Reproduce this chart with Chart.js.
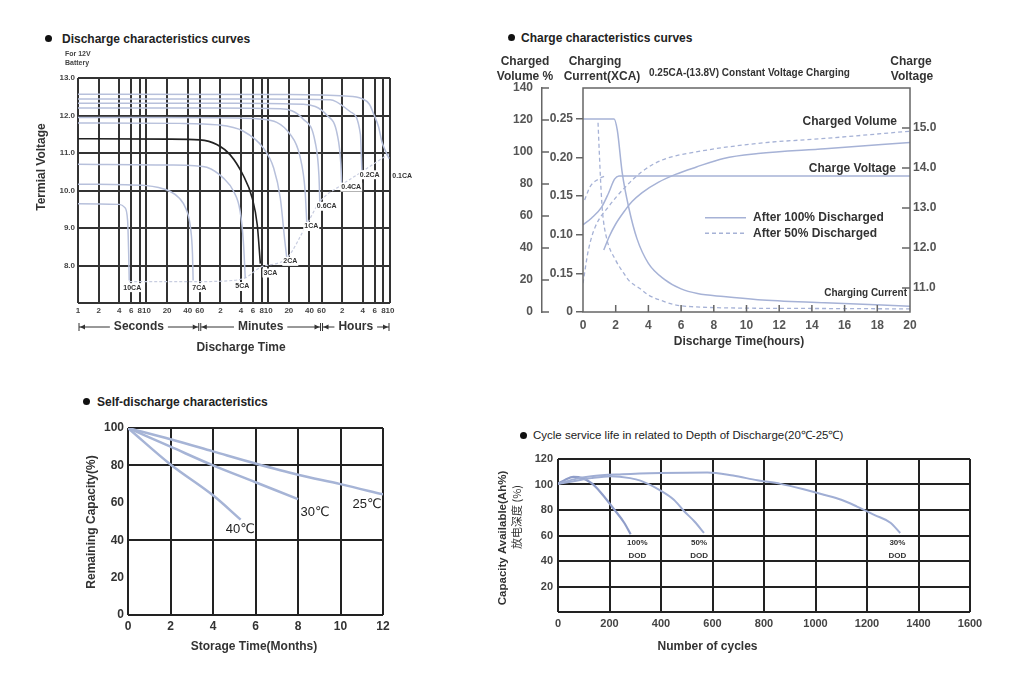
<!DOCTYPE html>
<html>
<head>
<meta charset="utf-8">
<title>Battery characteristics</title>
<script src="https://cdn.jsdelivr.net/npm/chart.js"></script>
<style>
  body { margin:0; background:#fff; width:1024px; height:673px; position:relative; overflow:hidden;
         font-family:"Liberation Sans", Arial, sans-serif; }
  canvas { position:absolute; }
  .hd { position:absolute; font-weight:bold; font-size:12px; line-height:16px; color:#222; white-space:nowrap; }
  .dot { position:absolute; width:7px; height:7px; border-radius:50%; background:#111; }
</style>
</head>
<body>

<div class="dot" style="left:45px;top:35px"></div>
<div class="hd" style="left:62px;top:31px">Discharge characteristics curves</div>
<div class="dot" style="left:508px;top:34px"></div>
<div class="hd" style="left:521px;top:30px">Charge characteristics curves</div>
<div class="dot" style="left:83px;top:398px"></div>
<div class="hd" style="left:97px;top:394px">Self-discharge characteristics</div>
<div class="dot" style="left:520px;top:432px"></div>
<div class="hd" style="left:533px;top:427px;font-weight:normal;font-size:11.5px">Cycle service life in related to Depth of Discharge(20℃-25℃)</div>

<canvas id="discharge" width="400" height="320" style="left:20px;top:45px"></canvas>
<canvas id="charge" width="460" height="320" style="left:490px;top:45px"></canvas>
<canvas id="selfdis" width="340" height="255" style="left:60px;top:410px"></canvas>
<canvas id="cycle" width="500" height="215" style="left:490px;top:445px"></canvas>

<script>
// ---------- discharge curves: [time in seconds, terminal voltage] ----------
const DIS_TICKS = [1, 2, 4, 6, 8, 10, 20, 40, 60, 120, 240, 360, 480, 600, 1200, 2400, 3600, 7200, 14400, 21600, 28800, 36000];
const DIS_TICK_LABELS = ['1','2','4','6','8','10','20','40','60','2','4','6','8','10','20','40','60','2','4','6','8','10'];
const DIS_10CA = [[1, 9.65], [4, 9.63], [4.8, 9.55], [5.3, 9.2], [5.5, 8.3], [5.6, 7.6]];
const DIS_7CA = [[1, 10.17], [10, 10.13], [15, 10.08], [22, 9.98], [30, 9.8], [38, 9.5], [44, 9.0], [47, 8.3], [48, 7.6]];
const DIS_5CA = [[1, 10.7], [20, 10.68], [50, 10.66], [76, 10.62], [133, 10.33], [187, 9.98], [233, 9.45], [260, 8.64], [277, 7.67]];
const DIS_3CA = [[1, 11.38], [20, 11.37], [60, 11.35], [108, 11.22], [167, 10.95], [256, 10.42], [350, 9.8], [415, 9.08], [460, 8.05]];
const DIS_2CA = [[1, 11.8], [30, 11.79], [110, 11.75], [260, 11.58], [510, 11.13], [720, 10.6], [900, 9.8], [1050, 8.64], [1120, 8.2]];
const DIS_1CA = [[1, 11.95], [100, 11.94], [510, 11.9], [1250, 11.5], [1750, 10.9], [2070, 10.0], [2200, 9.1]];
const DIS_06CA = [[1, 12.2], [100, 12.2], [900, 12.18], [1950, 11.9], [2900, 11.3], [3300, 10.4], [3400, 9.7]];
const DIS_04CA = [[1, 12.33], [200, 12.33], [1950, 12.3], [4350, 12.0], [6100, 11.5], [6900, 10.7], [7100, 10.15]];
const DIS_02CA = [[1, 12.44], [500, 12.44], [4800, 12.42], [9500, 12.1], [13300, 11.5], [14000, 10.5]];
const DIS_01CA = [[1, 12.57], [1000, 12.56], [8000, 12.52], [14000, 12.45], [18000, 12.3], [21000, 12.02], [24500, 11.7], [27400, 11.3], [31000, 11.05], [35000, 10.85]];
const DIS_END = [[5.6, 7.57], [48, 7.57], [180, 7.6], [277, 7.67], [460, 7.95], [1120, 8.2], [2200, 9.1], [3400, 9.7], [7100, 10.15], [14000, 10.5], [36000, 11.0]];

// ---------- charge curves: [hours, value] ----------
const CHG_CUR_LABELS = ['0', '0.15', '0.10', '0.15', '0.20', '0.25'];
const CHG_CUR_TICKS = [0, 0.05, 0.10, 0.15, 0.20, 0.25];
const CHG_VOLT_TICKS = [11, 12, 13, 14, 15];
const CUR_100 = [[0, 0.25], [1.9, 0.25], [2.1, 0.235], [2.4, 0.18], [2.8, 0.135], [3.3, 0.095], [4, 0.063], [5, 0.042], [6, 0.03], [7, 0.024], [8.6, 0.02], [10.7, 0.016], [14.8, 0.012], [20, 0.0075]];
const CUR_50 = [[0.92, 0.245], [1.0, 0.205], [1.1, 0.16], [1.2, 0.128], [1.45, 0.095], [2.0, 0.067], [2.5, 0.05], [2.8, 0.041], [3.5, 0.03], [4.0, 0.022], [4.9, 0.014], [5.7, 0.009], [6.6, 0.007], [10, 0.005], [15, 0.0045], [20, 0.004]];
const VOL_100 = [[1.27, 38.7], [1.6, 47], [2.0, 55], [2.58, 63.7], [3.0, 69], [3.6, 74.5], [4.6, 81], [5.66, 86], [6.9, 90.5], [8.6, 96], [10.7, 99], [14.8, 102], [20, 106]];
const VOL_50 = [[0, 18], [0.33, 38.7], [0.74, 53], [1.56, 65.8], [2.58, 78], [3.6, 87.7], [4.84, 95], [6.9, 100], [10.7, 105.4], [14.8, 108.5], [20, 113]];
const VOLT_100 = [[0, 12.58], [0.53, 12.75], [1.15, 13.03], [1.56, 13.37], [1.93, 13.72], [2.2, 13.8], [20, 13.8]];
const VOLT_50 = [[0.1, 13.2], [0.43, 13.53], [0.94, 13.72], [1.35, 13.8]];

// ---------- self discharge: [months, remaining capacity %] ----------
const SD_25C = [[0, 100], [2, 94], [4, 87.5], [6, 81], [8, 75], [10, 70], [12, 64.5]];
const SD_30C = [[0, 100], [2, 90], [4, 80], [6, 71], [8, 62]];
const SD_40C = [[0, 100], [2, 80.5], [4, 64], [5.3, 51]];

// ---------- cycle life: [cycles, capacity %] ----------
const CY_100 = [[0, 100.5], [30, 104], [60, 106], [95, 105], [130, 101], [165, 94], [218, 80.5], [257, 70], [282, 61]];
const CY_50 = [[0, 100.5], [60, 102.5], [130, 105], [205, 106.5], [280, 105], [320, 103], [400, 95], [450, 88], [490, 79], [530, 71], [567, 62]];
const CY_30 = [[0, 100.5], [60, 104], [130, 106.5], [250, 108], [400, 109], [580, 109.5], [680, 107], [774, 103.3], [864, 100.5], [950, 96.5], [1032, 92], [1100, 88], [1161, 82.7], [1230, 76], [1291, 70], [1329, 62]];

Chart.defaults.font.family = '"Liberation Sans", Arial, sans-serif';
Chart.defaults.animation = false;

const LIGHT = '#b7c0db';

function curve(data, color, width, dash, axis) {
  return { data, borderColor: color, borderWidth: width, borderDash: dash || [], pointRadius: 0,
           cubicInterpolationMode: 'monotone', fill: false, yAxisID: axis || 'y' };
}

function text(ctx, s, x, y, font, opt) {
  opt = opt || {};
  ctx.save();
  ctx.font = font;
  ctx.fillStyle = opt.color || '#333';
  ctx.textAlign = opt.align || 'left';
  ctx.textBaseline = 'middle';
  ctx.translate(x, y);
  if (opt.rot) ctx.rotate(opt.rot);
  if (opt.max) ctx.fillText(s, 0, 0, opt.max); else ctx.fillText(s, 0, 0);
  ctx.restore();
}

function notes(draw) {
  return { id: 'notes', afterDraw(chart) { chart.ctx.save(); draw(chart, chart.ctx); chart.ctx.restore(); } };
}

// ================= discharge characteristics =================
new Chart(document.getElementById('discharge'), {
  type: 'line',
  data: {
    datasets: [
      curve(DIS_10CA, LIGHT, 1.5), curve(DIS_7CA, LIGHT, 1.5), curve(DIS_5CA, LIGHT, 1.5),
      curve(DIS_3CA, '#222', 1.6), curve(DIS_2CA, LIGHT, 1.5), curve(DIS_1CA, LIGHT, 1.5),
      curve(DIS_06CA, LIGHT, 1.5), curve(DIS_04CA, LIGHT, 1.5), curve(DIS_02CA, LIGHT, 1.5),
      curve(DIS_01CA, LIGHT, 1.5), curve(DIS_END, '#c8cde0', 1.2, [3, 2])
    ]
  },
  options: {
    responsive: false,
    layout: { padding: { top: 33, right: 30, left: 0, bottom: 0 } },
    plugins: { legend: { display: false }, tooltip: { enabled: false } },
    scales: {
      x: {
        type: 'logarithmic', min: 1, max: 36000,
        afterBuildTicks: s => { s.ticks = DIS_TICKS.map(v => ({ value: v })); },
        afterFit: s => { s.height = 62; },
        ticks: { autoSkip: false, maxRotation: 0, padding: 3, color: '#444',
                 font: { size: 8, weight: 'bold' }, callback: (v, i) => DIS_TICK_LABELS[i] },
        grid: { color: '#333', lineWidth: 2, drawTicks: false },
        border: { display: false }
      },
      y: {
        min: 7, max: 13,
        afterFit: s => { s.width = 58; },
        ticks: { stepSize: 1, padding: 3, color: '#444', font: { size: 8, weight: 'bold' },
                 callback: v => v === 7 ? '' : v.toFixed(1) },
        grid: { color: '#333', lineWidth: 2, drawTicks: false },
        border: { display: false }
      }
    }
  },
  plugins: [notes((chart, ctx) => {
    const sx = chart.scales.x, sy = chart.scales.y;
    const OX = 20, OY = 45;
    text(ctx, 'For 12V', 65 - OX, 54 - OY, 'bold 7px "Liberation Sans"', { color: '#444' });
    text(ctx, 'Battery', 65 - OX, 63.5 - OY, 'bold 7px "Liberation Sans"', { color: '#444' });
    text(ctx, 'Termial Voltage', 42 - OX, 167 - OY, 'bold 12px "Liberation Sans"', { align: 'center', rot: -Math.PI / 2 });

    // curve labels, anchored in data units
    const lab = [['10CA', 6.2, 7.41], ['7CA', 59, 7.41], ['5CA', 251, 7.44], ['3CA', 645, 7.8], ['2CA', 1260, 8.11],
                 ['1CA', 2550, 9.04], ['0.6CA', 4290, 9.58], ['0.4CA', 9780, 10.09], ['0.2CA', 18200, 10.42], ['0.1CA', 54200, 10.38]];
    ctx.font = 'bold 7px "Liberation Sans"';
    for (const [s, t, v] of lab) {
      const x = sx.getPixelForValue(t), y = sy.getPixelForValue(v);
      const w = ctx.measureText(s).width;
      ctx.fillStyle = '#fff';
      ctx.fillRect(x - w / 2 - 1, y - 4.5, w + 2, 9);
      text(ctx, s, x, y, 'bold 7px "Liberation Sans"', { align: 'center', color: '#333' });
    }

    // Seconds / Minutes / Hours ranges
    const yRow = 327 - OY;
    const spans = [['Seconds', 1, 60], ['Minutes', 60, 3600], ['Hours', 3600, 36000]];
    ctx.strokeStyle = '#333'; ctx.fillStyle = '#333'; ctx.lineWidth = 1;
    for (const [s, a, b] of spans) {
      const x1 = sx.getPixelForValue(a) + 1, x2 = sx.getPixelForValue(b) - 1;
      ctx.beginPath();
      ctx.moveTo(x1, yRow - 4); ctx.lineTo(x1, yRow + 4);
      ctx.moveTo(x2, yRow - 4); ctx.lineTo(x2, yRow + 4);
      ctx.moveTo(x1, yRow); ctx.lineTo(x2, yRow);
      ctx.stroke();
      ctx.beginPath();
      ctx.moveTo(x1 + 1, yRow); ctx.lineTo(x1 + 6, yRow - 2.5); ctx.lineTo(x1 + 6, yRow + 2.5);
      ctx.moveTo(x2 - 1, yRow); ctx.lineTo(x2 - 6, yRow - 2.5); ctx.lineTo(x2 - 6, yRow + 2.5);
      ctx.fill();
      ctx.font = 'bold 12px "Liberation Sans"';
      const w = ctx.measureText(s).width, xc = (x1 + x2) / 2;
      ctx.fillStyle = '#fff';
      ctx.fillRect(xc - w / 2 - 4, yRow - 7, w + 8, 14);
      text(ctx, s, xc, yRow, 'bold 12px "Liberation Sans"', { align: 'center' });
      ctx.fillStyle = '#333';
    }
    text(ctx, 'Discharge Time', 241 - OX, 348 - OY, 'bold 12px "Liberation Sans"', { align: 'center' });
  })]
});

// ================= charge characteristics =================
const BLUE = '#a6b2d6';
new Chart(document.getElementById('charge'), {
  type: 'line',
  data: {
    datasets: [
      curve(CUR_100, BLUE, 1.5, null, 'yCur'), curve(CUR_50, BLUE, 1.3, [4, 3], 'yCur'),
      curve(VOL_100, BLUE, 1.5, null, 'yVol'), curve(VOL_50, BLUE, 1.3, [4, 3], 'yVol'),
      curve(VOLT_100, BLUE, 1.5, null, 'yV'), curve(VOLT_50, BLUE, 1.3, [4, 3], 'yV')
    ]
  },
  options: {
    responsive: false,
    layout: { padding: { top: 43, right: 0, left: 0, bottom: 0 } },
    plugins: { legend: { display: false }, tooltip: { enabled: false } },
    scales: {
      x: {
        type: 'linear', min: 0, max: 20,
        afterFit: s => { s.height = 53; },
        ticks: { stepSize: 2, padding: 6, color: '#555', font: { size: 12, weight: 'bold' } },
        grid: { display: false, drawTicks: false },
        border: { display: false }
      },
      yCur: {
        position: 'left', min: 0, max: 0.29,
        afterBuildTicks: s => { s.ticks = CHG_CUR_TICKS.map(v => ({ value: v })); },
        afterFit: s => { s.width = 41; },
        ticks: { padding: 3, color: '#555', font: { size: 12, weight: 'bold' }, callback: (v, i) => CHG_CUR_LABELS[i] },
        grid: { drawOnChartArea: false, drawTicks: true, tickLength: 7, color: '#666', lineWidth: 1.5 },
        border: { display: false }
      },
      yVol: {
        position: 'left', min: 0, max: 140,
        afterFit: s => { s.width = 52; },
        ticks: { stepSize: 20, padding: 9, color: '#555', font: { size: 12, weight: 'bold' } },
        grid: { display: false, drawTicks: false },
        border: { display: true, color: '#666', width: 1.5 }
      },
      yV: {
        position: 'right', min: 10.4, max: 16,
        afterBuildTicks: s => { s.ticks = CHG_VOLT_TICKS.map(v => ({ value: v })); },
        afterFit: s => { s.width = 40; },
        ticks: { padding: 3, color: '#555', font: { size: 12, weight: 'bold' }, callback: v => v.toFixed(1) },
        grid: { display: false, drawTicks: false },
        border: { display: false }
      }
    }
  },
  plugins: [notes((chart, ctx) => {
    const { left, right, top, bottom } = chart.chartArea;
    const sx = chart.scales.x, sv = chart.scales.yVol, su = chart.scales.yV;
    const OX = 490, OY = 45;
    ctx.strokeStyle = '#666'; ctx.lineWidth = 1.5;
    ctx.strokeRect(left, top, right - left, bottom - top);
    ctx.beginPath();
    for (let h = 2; h < 20; h += 2) { const x = sx.getPixelForValue(h); ctx.moveTo(x, bottom); ctx.lineTo(x, bottom - 7); }
    for (const v of CHG_VOLT_TICKS) { const y = su.getPixelForValue(v); ctx.moveTo(right, y); ctx.lineTo(right - 8, y); }
    for (let v = 0; v <= 140; v += 20) { const y = sv.getPixelForValue(v); ctx.moveTo(sv.right, y); ctx.lineTo(sv.right + 7, y); }
    ctx.stroke();

    const F = 'bold 12px "Liberation Sans"';
    text(ctx, 'Charged', 525 - OX, 62 - OY, F, { align: 'center' });
    text(ctx, 'Volume %', 525 - OX, 77 - OY, F, { align: 'center' });
    text(ctx, 'Charging', 595 - OX, 62 - OY, F, { align: 'center' });
    text(ctx, 'Current(XCA)', 602 - OX, 77 - OY, F, { align: 'center' });
    text(ctx, '0.25CA-(13.8V) Constant Voltage Charging', 649 - OX, 73 - OY, 'bold 10px "Liberation Sans"', { max: 212 });
    text(ctx, 'Charge', 911 - OX, 62 - OY, F, { align: 'center' });
    text(ctx, 'Voltage', 912 - OX, 77 - OY, F, { align: 'center' });
    text(ctx, 'Charged Volume', 897 - OX, 121.5 - OY, F, { align: 'right' });
    text(ctx, 'Charge Voltage', 896 - OX, 169 - OY, F, { align: 'right' });
    text(ctx, 'Charging Current', 907 - OX, 293.5 - OY, 'bold 10px "Liberation Sans"', { align: 'right', max: 87 });

    // legend
    ctx.strokeStyle = BLUE; ctx.lineWidth = 1.5;
    ctx.beginPath(); ctx.moveTo(705 - OX, 217.7 - OY); ctx.lineTo(746 - OX, 217.7 - OY); ctx.stroke();
    ctx.setLineDash([4, 3]);
    ctx.beginPath(); ctx.moveTo(705 - OX, 233.3 - OY); ctx.lineTo(746 - OX, 233.3 - OY); ctx.stroke();
    ctx.setLineDash([]);
    text(ctx, 'After 100% Discharged', 753 - OX, 217.7 - OY, F, { max: 137 });
    text(ctx, 'After 50% Discharged', 753 - OX, 233.3 - OY, F, { max: 130 });

    text(ctx, 'Discharge Time(hours)', 739 - OX, 342 - OY, F, { align: 'center' });
  })]
});

// ================= self-discharge =================
const SD_COLOR = '#a6b4d6';
new Chart(document.getElementById('selfdis'), {
  type: 'line',
  data: { datasets: [curve(SD_25C, SD_COLOR, 2.5), curve(SD_30C, SD_COLOR, 2.5), curve(SD_40C, SD_COLOR, 2.5)] },
  options: {
    responsive: false,
    layout: { padding: { top: 18, right: 17, left: 0, bottom: 0 } },
    plugins: { legend: { display: false }, tooltip: { enabled: false } },
    scales: {
      x: {
        type: 'linear', min: 0, max: 12,
        afterFit: s => { s.height = 50; },
        ticks: { stepSize: 2, padding: 4, color: '#333', font: { size: 12, weight: 'bold' } },
        grid: { color: '#222', lineWidth: 2, drawTicks: false },
        border: { display: false }
      },
      y: {
        min: 0, max: 100,
        afterFit: s => { s.width = 68; },
        ticks: { stepSize: 20, padding: 4, color: '#333', font: { size: 12, weight: 'bold' } },
        grid: { color: c => [0, 40, 80, 100].includes(c.tick.value) ? '#222' : 'rgba(0,0,0,0)', lineWidth: 2, drawTicks: false },
        border: { display: false }
      }
    }
  },
  plugins: [notes((chart, ctx) => {
    const sx = chart.scales.x, sy = chart.scales.y;
    const OX = 60, OY = 410;
    const F = 'bold 12px "Liberation Sans"';
    text(ctx, 'Remaining Capacity(%)', 92 - OX, 522 - OY, F, { align: 'center', rot: -Math.PI / 2 });
    text(ctx, 'Storage Time(Months)', 254 - OX, 647 - OY, F, { align: 'center' });
    const lab = [['40℃', 5.28, 45.5], ['30℃', 8.8, 55], ['25℃', 11.25, 59]];
    for (const [s, m, v] of lab) {
      text(ctx, s, sx.getPixelForValue(m), sy.getPixelForValue(v), '13px "Liberation Sans", "DejaVu Sans"', { align: 'center', color: '#222' });
    }
  })]
});

// ================= cycle service life =================
const CY_COLOR = '#a0aed4';
new Chart(document.getElementById('cycle'), {
  type: 'line',
  data: { datasets: [curve(CY_30, CY_COLOR, 2), curve(CY_50, CY_COLOR, 2), curve(CY_100, '#8f9dc9', 2.2)] },
  options: {
    responsive: false,
    layout: { padding: { top: 14, right: 20, left: 0, bottom: 0 } },
    plugins: { legend: { display: false }, tooltip: { enabled: false } },
    scales: {
      x: {
        type: 'linear', min: 0, max: 1600,
        afterFit: s => { s.height = 48; },
        ticks: { stepSize: 200, padding: 5, color: '#444', font: { size: 11, weight: 'bold' }, callback: v => String(v) },
        grid: { color: '#222', lineWidth: 2, drawTicks: false },
        border: { display: false }
      },
      y: {
        min: 0, max: 120,
        afterFit: s => { s.width = 68; },
        ticks: { stepSize: 20, padding: 5, color: '#444', font: { size: 11, weight: 'bold' },
                 callback: v => v === 0 ? '' : String(v) },
        grid: { color: '#222', lineWidth: 2, drawTicks: false },
        border: { display: false }
      }
    }
  },
  plugins: [notes((chart, ctx) => {
    const sx = chart.scales.x, sy = chart.scales.y;
    const OX = 490, OY = 445;
    text(ctx, 'Capacity Available(Ah%)', 503 - OX, 538 - OY, 'bold 11.5px "Liberation Sans"', { align: 'center', rot: -Math.PI / 2 });
    text(ctx, '放电深度 (%)', 517 - OX, 517 - OY, '11px "Noto Sans CJK SC"', { align: 'center', rot: -Math.PI / 2 });
    text(ctx, 'Number of cycles', 707.5 - OX, 647 - OY, 'bold 12px "Liberation Sans"', { align: 'center' });
    const lab = [['100%', 308], ['50%', 548], ['30%', 1318]];
    for (const [s, c] of lab) {
      const x = sx.getPixelForValue(c);
      text(ctx, s, x, sy.getPixelForValue(54.5), 'bold 8px "Liberation Sans"', { align: 'center', color: '#333' });
      text(ctx, 'DOD', x, sy.getPixelForValue(44), 'bold 8px "Liberation Sans"', { align: 'center', color: '#333' });
    }
  })]
});
</script>
</body>
</html>
